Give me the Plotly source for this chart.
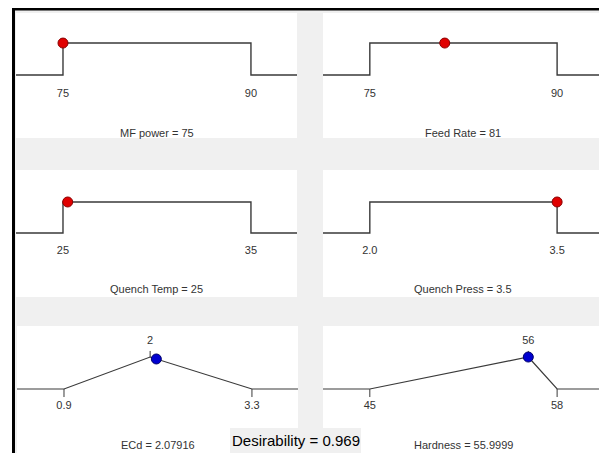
import plotly.graph_objects as go

# ---------------- data ----------------
factor_names = ["MF power", "Feed Rate", "Quench Temp", "Quench Press"]
factor_low = [75, 75, 25, 2.0]
factor_high = [90, 90, 35, 3.5]
factor_ticklabels = [["75", "90"], ["75", "90"], ["25", "35"], ["2.0", "3.5"]]
factor_settings = [75, 81, 25.25, 3.5]
factor_setting_labels = ["75", "81", "25", "3.5"]

response_names = ["ECd", "Hardness"]
response_low = [0.9, 45]
response_target = [2, 56]
response_high = [3.3, 58]
response_ticklabels = [["0.9", "2", "3.3"], ["45", "56", "58"]]
response_values = [2.07916, 55.9999]
response_value_labels = ["2.07916", "55.9999"]
overall_desirability = 0.969

# ---------------- layout helpers ----------------
# the page body has an 8px margin, so the figure starts at (8, 8) in the window
OFF = 8
W, H = 607 - OFF, 453 - OFF
FONT = "Liberation Sans, Arial, sans-serif"
TXT = "#333333"
LINE = "#3a3a3a"


def px_x(p):
    return (p - OFF) / W


def px_y(p):
    return 1 - (p - OFF) / H


# panel rectangles in window pixels (left, right, top, bottom)
panels = [
    (16, 297, 13, 138),
    (323, 603, 13, 138),
    (16, 297, 170, 297),
    (323, 603, 170, 297),
    (17, 298, 326, 453),
    (323, 603, 326, 453),
]
yranges = [[-1.97, 1.94], [-1.97, 1.94], [-2.06, 2.03], [-2.06, 2.03], [-2.0, 1.97], [-2.0, 1.97]]
ticklabel_y = [-0.6, -0.6, -0.6, -0.6]
title_y = [-1.81, -1.81, -1.81, -1.81, -1.75, -1.75]

fig = go.Figure()
layout = dict(
    width=W, height=H, margin=dict(l=0, r=0, t=0, b=0),
    paper_bgcolor="#f0f0f0", plot_bgcolor="white", showlegend=False,
    font=dict(family=FONT, size=11, color=TXT),
)
annotations = []
shapes = []

for i in range(6):
    l, r, t, b = panels[i]
    if i < 4:
        lo, hi = factor_low[i], factor_high[i]
    else:
        lo, hi = response_low[i - 4], response_high[i - 4]
    span = hi - lo
    xr = [lo - 0.25 * span, hi + 0.245 * span]
    sfx = "" if i == 0 else str(i + 1)
    layout["xaxis" + sfx] = dict(domain=[px_x(l), px_x(r)], range=xr, visible=False,
                                 fixedrange=True, anchor="y" + sfx)
    layout["yaxis" + sfx] = dict(domain=[max(0, px_y(b)), px_y(t)], range=yranges[i], visible=False,
                                 fixedrange=True, anchor="x" + sfx)
    xa, ya = "x" + sfx, "y" + sfx

    if i < 4:
        fig.add_trace(go.Scatter(x=[xr[0], lo, lo, hi, hi, xr[1]], y=[0, 0, 1, 1, 0, 0],
                                 mode="lines", line=dict(color=LINE, width=1.4),
                                 xaxis=xa, yaxis=ya, hoverinfo="skip"))
        fig.add_trace(go.Scatter(x=[lo, hi], y=[ticklabel_y[i]] * 2, mode="text",
                                 text=factor_ticklabels[i], textfont=dict(family=FONT, size=11, color=TXT),
                                 xaxis=xa, yaxis=ya, hoverinfo="skip"))
        fig.add_trace(go.Scatter(x=[factor_settings[i]], y=[1], mode="markers",
                                 marker=dict(size=10, color="#e00000", line=dict(color="#8a0000", width=1)),
                                 xaxis=xa, yaxis=ya, hoverinfo="skip"))
        title = f"{factor_names[i]} = {factor_setting_labels[i]}"
    else:
        k = i - 4
        tg = response_target[k]
        fig.add_trace(go.Scatter(x=[xr[0], lo, tg, hi, xr[1]], y=[0, 0, 1, 0, 0],
                                 mode="lines", line=dict(color=LINE, width=1.2),
                                 xaxis=xa, yaxis=ya, hoverinfo="skip"))
        fig.add_trace(go.Scatter(x=[lo, lo, None, hi, hi, None, tg, tg],
                                 y=[0, -0.25, None, 0, -0.25, None, 1, 1.19],
                                 mode="lines", line=dict(color=LINE, width=1),
                                 xaxis=xa, yaxis=ya, hoverinfo="skip"))
        fig.add_trace(go.Scatter(x=[lo, tg, hi], y=[-0.55, 1.5, -0.55], mode="text",
                                 text=response_ticklabels[k], textfont=dict(family=FONT, size=11, color=TXT),
                                 xaxis=xa, yaxis=ya, hoverinfo="skip"))
        v = response_values[k]
        d = (v - lo) / (tg - lo) if v <= tg else (hi - v) / (hi - tg)
        fig.add_trace(go.Scatter(x=[v], y=[d], mode="markers",
                                 marker=dict(size=10, color="#0000d0", line=dict(color="#00006a", width=1)),
                                 xaxis=xa, yaxis=ya, hoverinfo="skip"))
        title = f"{response_names[k]} = {response_value_labels[k]}"

    annotations.append(dict(text=title, xref=xa + " domain", yref=ya, x=0.5, y=title_y[i],
                            xanchor="center", yanchor="middle",
                            showarrow=False, font=dict(family=FONT, size=11, color=TXT)))

# desirability box
shapes.append(dict(type="rect", xref="paper", yref="paper", x0=px_x(230), x1=px_x(361),
                   y0=0, y1=px_y(428), fillcolor="#f0f0f0", line=dict(width=0), layer="above"))
annotations.append(dict(text=f"Desirability = {overall_desirability}", xref="paper", yref="paper",
                        x=px_x(295.5), y=px_y(440), xanchor="center", yanchor="middle", showarrow=False,
                        font=dict(family=FONT, size=15, color="black")))

# outer white margin and black frame
shapes.append(dict(type="rect", xref="paper", yref="paper", x0=0, x1=px_x(12), y0=0, y1=1,
                   fillcolor="white", line=dict(width=0), layer="above"))
shapes.append(dict(type="rect", xref="paper", yref="paper", x0=px_x(12), x1=px_x(15), y0=0, y1=1,
                   fillcolor="black", line=dict(width=0), layer="above"))
shapes.append(dict(type="rect", xref="paper", yref="paper", x0=px_x(12), x1=1, y0=px_y(10.5), y1=1,
                   fillcolor="black", line=dict(width=0), layer="above"))

layout["annotations"] = annotations
layout["shapes"] = shapes
fig.update_layout(**layout)
fig.write_html("out.html")
